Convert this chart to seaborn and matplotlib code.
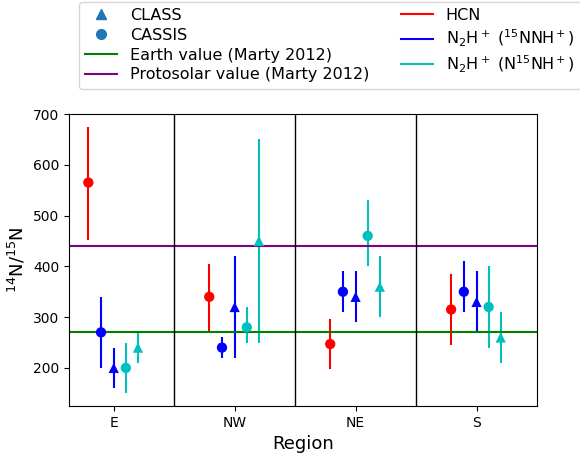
import matplotlib
matplotlib.use("Agg")
import matplotlib.pyplot as plt
import seaborn as sns
import pandas as pd
from matplotlib.lines import Line2D

regions = ["E", "NW", "NE", "S"]
hcn = [565, 340, 247, 315]
hcn_lo = [452, 272, 197, 245]
hcn_hi = [675, 405, 297, 385]
nnh_cassis = [270, 240, 350, 350]
nnh_cassis_lo = [200, 220, 310, 310]
nnh_cassis_hi = [340, 260, 390, 410]
nnh_class = [200, 320, 340, 330]
nnh_class_lo = [160, 220, 290, 270]
nnh_class_hi = [240, 420, 390, 390]
n15_cassis = [200, 280, 460, 320]
n15_cassis_lo = [150, 250, 400, 240]
n15_cassis_hi = [250, 320, 530, 400]
n15_class = [240, 450, 360, 260]
n15_class_lo = [210, 250, 300, 210]
n15_class_hi = [270, 650, 420, 310]
earth = 270
protosolar = 441

series = [
    ("HCN", hcn, hcn_lo, hcn_hi, "red", "o", -0.21),
    ("nnh_cassis", nnh_cassis, nnh_cassis_lo, nnh_cassis_hi, "blue", "o", -0.105),
    ("nnh_class", nnh_class, nnh_class_lo, nnh_class_hi, "blue", "^", 0.0),
    ("n15_cassis", n15_cassis, n15_cassis_lo, n15_cassis_hi, "c", "o", 0.1),
    ("n15_class", n15_class, n15_class_lo, n15_class_hi, "c", "^", 0.2),
]

fig = plt.figure(figsize=(5.8, 4.55), dpi=100)
ax = fig.add_axes([69/580, 1-406/455, (537-69)/580, (406-114)/455])
for name, v, lo, hi, col, m, off in series:
    xs = [i + off for i in range(len(regions))]
    ax.errorbar(xs, v, yerr=[[a - b for a, b in zip(v, lo)], [c - a for a, c in zip(v, hi)]],
                fmt="none", ecolor=col, elinewidth=1.5)
    df = pd.DataFrame({"x": xs, "y": v})
    sns.scatterplot(data=df, x="x", y="y", ax=ax, color=col, marker=m, s=55, edgecolor="none", zorder=3)

ax.axhline(earth, color="green", lw=1.5)
ax.axhline(protosolar, color="purple", lw=1.5)
for xv in [0.5, 1.5, 2.5]:
    ax.axvline(xv, color="black", lw=1)
ax.set_xlim(-0.37, 3.5)
ax.set_ylim(125, 700)
ax.set_xticks(range(4))
ax.set_xticklabels(regions)
ax.set_xlabel("Region", fontsize=13)
ax.set_ylabel(r"$^{14}$N/$^{15}$N", fontsize=13)

handles = [
    Line2D([], [], ls="none", marker="^", color="tab:blue", markersize=7),
    Line2D([], [], ls="none", marker="o", color="tab:blue", markersize=7),
    Line2D([], [], color="green", lw=1.5),
    Line2D([], [], color="purple", lw=1.5),
    Line2D([], [], color="red", lw=1.5),
    Line2D([], [], color="blue", lw=1.5),
    Line2D([], [], color="c", lw=1.5),
]
labels = ["CLASS", "CASSIS", "Earth value (Marty 2012)", "Protosolar value (Marty 2012)",
          "HCN", r"N$_2$H$^+$ ($^{15}$NNH$^+$)", r"N$_2$H$^+$ (N$^{15}$NH$^+$)"]
fig.legend(handles, labels, ncol=2, loc="upper left", bbox_to_anchor=(77/580, 1.0),
           fontsize=11.5, frameon=True, borderaxespad=0.1, columnspacing=2.0,
           handletextpad=0.8, labelspacing=0.3)
fig.savefig("out.png", dpi=100)
